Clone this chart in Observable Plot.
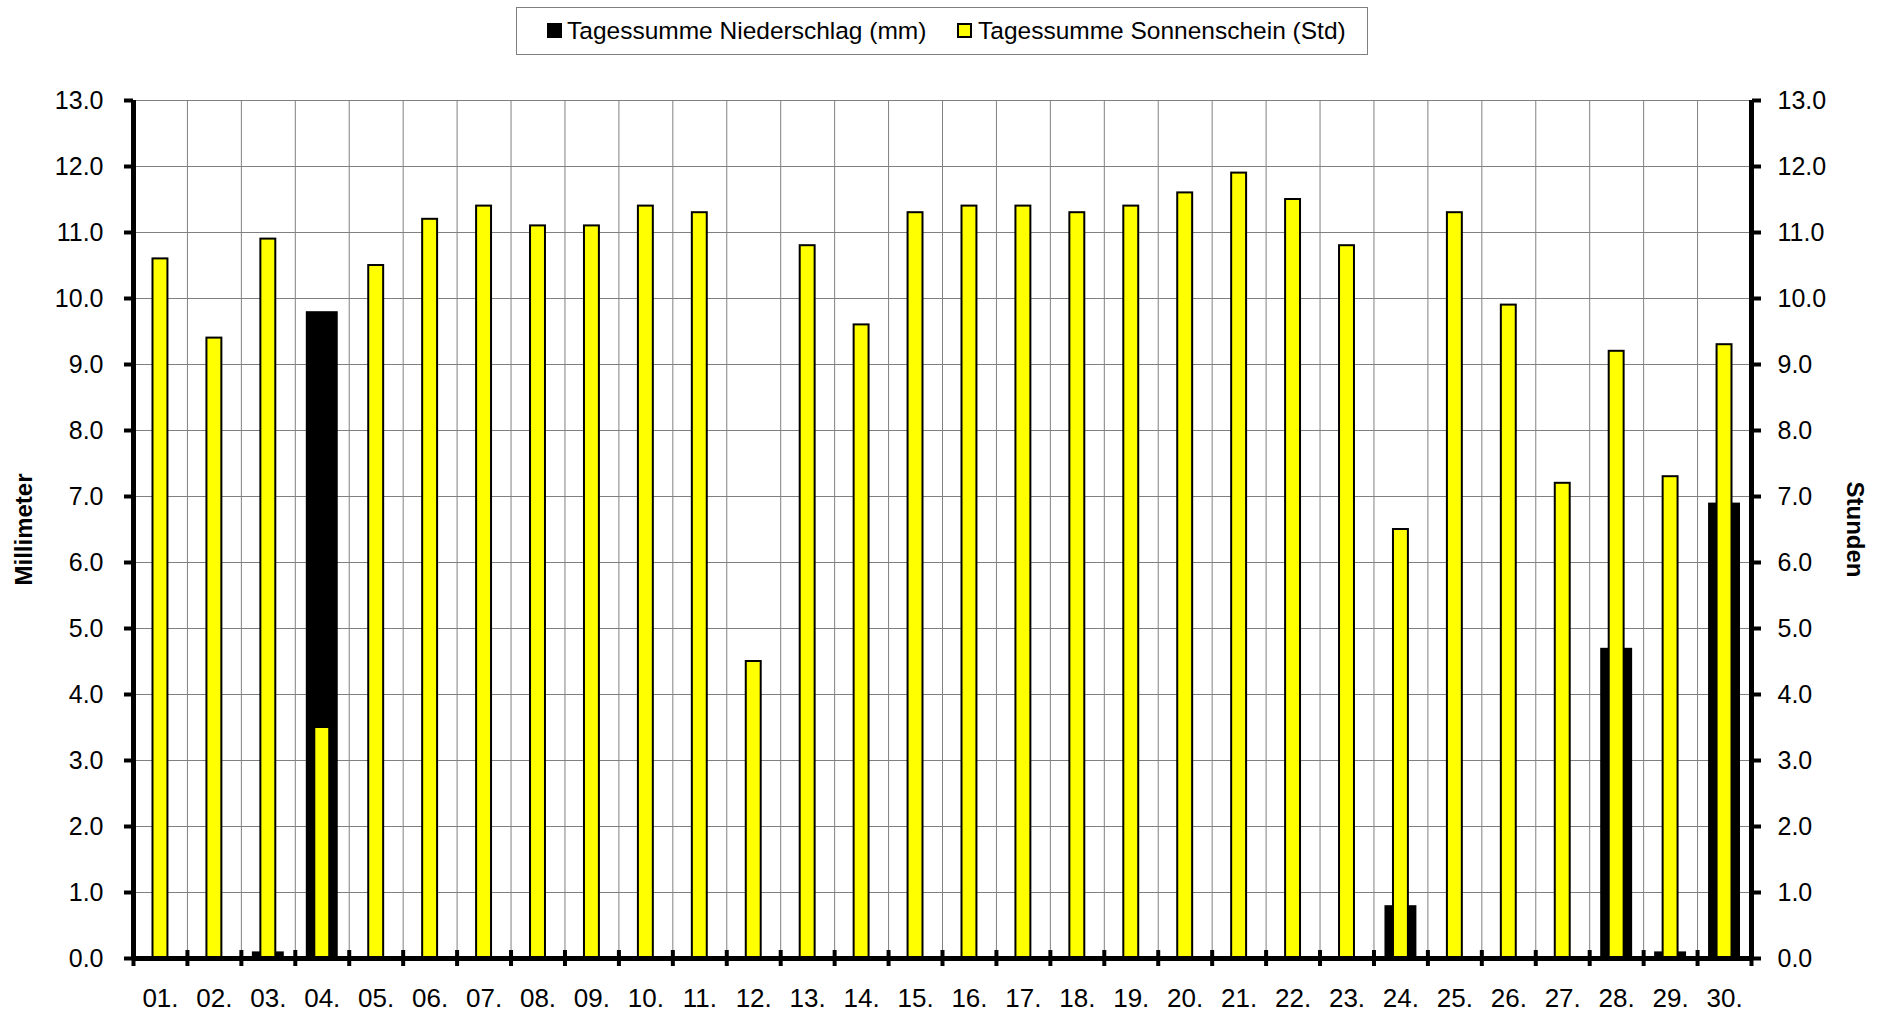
<!DOCTYPE html>
<html>
<head>
<meta charset="utf-8">
<script src="https://cdn.jsdelivr.net/npm/d3@7"></script>
<script src="https://cdn.jsdelivr.net/npm/@observablehq/plot@0.6"></script>
<style>
  body { margin: 0; background: #fff; font-family: "Liberation Sans", Arial, sans-serif; }
  #wrap { position: relative; width: 1881px; height: 1013px; overflow: hidden; }
  #legend { position: absolute; left: 516px; top: 7px; width: 850px; height: 46px; border: 1px solid #7f7f7f; background: #fff; }
  .sw { position: absolute; top: 15px; width: 15px; height: 15px; box-sizing: border-box; }
  .lt { position: absolute; top: 9px; font-size: 24.5px; line-height: 28px; color: #000; white-space: nowrap; }
  #chart { position: absolute; left: 0; top: 62px; }
</style>
</head>
<body>
<div id="wrap">
  <div id="legend">
    <div class="sw" style="left:30px;background:#000;"></div>
    <div class="lt" id="l1" style="left:50px;"></div>
    <div class="sw" style="left:440px;background:#ffff00;border:2px solid #000;"></div>
    <div class="lt" id="l2" style="left:461px;"></div>
  </div>
  <div id="chart"></div>
</div>
<script>
const days = ["01.","02.","03.","04.","05.","06.","07.","08.","09.","10.",
              "11.","12.","13.","14.","15.","16.","17.","18.","19.","20.",
              "21.","22.","23.","24.","25.","26.","27.","28.","29.","30."];
const sunshine = [10.6, 9.4, 10.9, 3.5, 10.5, 11.2, 11.4, 11.1, 11.1, 11.4,
                  11.3, 4.5, 10.8, 9.6, 11.3, 11.4, 11.4, 11.3, 11.4, 11.6,
                  11.9, 11.5, 10.8, 6.5, 11.3, 9.9, 7.2, 9.2, 7.3, 9.3];
const precipitation = [0, 0, 0.1, 9.8, 0, 0, 0, 0, 0, 0,
                       0, 0, 0, 0, 0, 0, 0, 0, 0, 0,
                       0, 0, 0, 0.8, 0, 0, 0, 4.7, 0.1, 6.9];
const yTicks = [0, 1, 2, 3, 4, 5, 6, 7, 8, 9, 10, 11, 12, 13];
const seriesNames = ["Tagessumme Niederschlag (mm)", "Tagessumme Sonnenschein (Std)"];
const axisTitles = ["Millimeter", "Stunden"];

document.getElementById("l1").textContent = seriesNames[0];
document.getElementById("l2").textContent = seriesNames[1];

const table = days.map((label, i) => ({label, n: i + 1, sun: sunshine[i], rain: precipitation[i]}));
const xDomain = [0.5, days.length + 0.5];
const boundaries = [xDomain[0], ...table.map(d => d.n + 0.5)];

const chart = Plot.plot({
  width: 1881,
  height: 951,
  marginTop: 38,
  marginBottom: 55,
  marginLeft: 133,
  marginRight: 130,
  style: {fontFamily: "'Liberation Sans', Arial, sans-serif", fontSize: "25px", color: "#000", background: "#fff"},
  x: {type: "linear", domain: xDomain},
  y: {domain: [0, 13]},
  marks: [
    Plot.gridY(yTicks, {stroke: "#808080", strokeOpacity: 1, strokeWidth: 1}),
    Plot.ruleX(table, {x: d => d.n + 0.5, stroke: "#808080", strokeOpacity: 1, strokeWidth: 1}),
    Plot.rect(table.filter(d => d.rain > 0), {x1: d => d.n - 0.5, x2: d => d.n + 0.5, y1: 0, y2: "rain", fill: "#000", insetLeft: 11, insetRight: 11}),
    Plot.rect(table, {x1: d => d.n - 0.5, x2: d => d.n + 0.5, y1: 0, y2: "sun", fill: "#ffff00", stroke: "#000", strokeWidth: 2, insetLeft: 19.5, insetRight: 19.5}),
    Plot.ruleX(xDomain, {stroke: "#000", strokeWidth: 5}),
    Plot.ruleY([0], {stroke: "#000", strokeWidth: 5}),
    Plot.ruleX(boundaries, {y1: 0, y2: 0, insetTop: -8, insetBottom: -8, stroke: "#000", strokeWidth: 4}),
    Plot.axisY({anchor: "left", ticks: yTicks, tickFormat: d3.format(".1f"), tickSize: 9, tickPadding: 21, strokeWidth: 4, label: null}),
    Plot.axisY({anchor: "right", ticks: yTicks, tickFormat: d3.format(".1f"), tickSize: 9, tickPadding: 17, strokeWidth: 4, label: null}),
    Plot.axisX({ticks: table.map(d => d.n), tickFormat: n => days[n - 1], tickSize: 0, tickPadding: 30, fontSize: 26, label: null}),
    Plot.text([axisTitles[0]], {frameAnchor: "left", textAnchor: "middle", lineAnchor: "middle", rotate: -90, dx: -109, fontWeight: "bold", fontSize: 24, fill: "#000"}),
    Plot.text([axisTitles[1]], {frameAnchor: "right", textAnchor: "middle", lineAnchor: "middle", rotate: 90, dx: 103, fontWeight: "bold", fontSize: 24, fill: "#000"})
  ]
});
document.getElementById("chart").appendChild(chart);
</script>
</body>
</html>
